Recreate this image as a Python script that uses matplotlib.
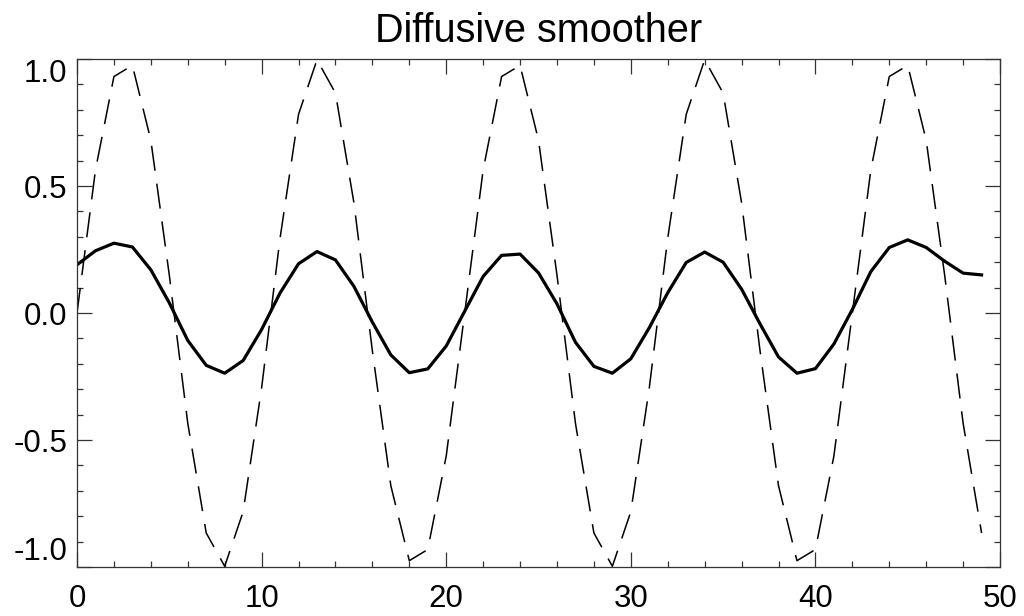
import matplotlib
matplotlib.use('Agg')
import matplotlib.pyplot as plt
from matplotlib.ticker import MultipleLocator, FixedLocator

plt.rcParams['font.family'] = ['Liberation Sans', 'DejaVu Sans']

# x positions 0..49
x = list(range(50))

# initial signal (dashed)
initial = [0.0, 0.563, 0.931, 0.975, 0.680, 0.149, -0.434, -0.866, -0.997, -0.782,
           -0.295, 0.295, 0.782, 0.997, 0.866, 0.434, -0.149, -0.680, -0.975, -0.931,
           -0.563, 0.0, 0.563, 0.931, 0.975, 0.680, 0.149, -0.434, -0.866, -0.997,
           -0.782, -0.295, 0.295, 0.782, 0.997, 0.866, 0.434, -0.149, -0.680, -0.975,
           -0.931, -0.563, 0.0, 0.563, 0.931, 0.975, 0.680, 0.149, -0.434, -0.866]

# smoothed result (solid)
smoothed = [0.19, 0.245, 0.275, 0.26, 0.17, 0.04, -0.108, -0.206, -0.237, -0.187,
            -0.065, 0.079, 0.194, 0.242, 0.209, 0.105, -0.036, -0.165, -0.235, -0.22,
            -0.13, 0.007, 0.144, 0.227, 0.232, 0.158, 0.036, -0.115, -0.21, -0.237,
            -0.18, -0.058, 0.08, 0.199, 0.24, 0.20, 0.094, -0.043, -0.173, -0.237,
            -0.219, -0.122, 0.014, 0.163, 0.258, 0.288, 0.258, 0.204, 0.157, 0.150]

fig = plt.figure(figsize=(10.24, 6.16), dpi=100)
ax = fig.add_axes([0.0752, 0.0795, 0.9014, 0.8247])

ax.plot(x, initial, color='black', lw=1.1, dashes=(16.5, 8.5))
ax.plot(x, smoothed, color='black', lw=2.3)

ax.set_xlim(0, 50)
ax.set_ylim(-1, 1)
ax.set_title('Diffusive smoother', fontsize=28.5, pad=12)

ax.xaxis.set_major_locator(MultipleLocator(10))
ax.xaxis.set_minor_locator(MultipleLocator(2))
ax.yaxis.set_major_locator(FixedLocator([-1.0, -0.5, 0.0, 0.5, 1.0]))
ax.yaxis.set_minor_locator(MultipleLocator(0.1))
ax.set_yticklabels(['-1.0', '-0.5', '0.0', '0.5', '1.0'])

ax.tick_params(which='both', direction='in', top=True, right=True,
               labelsize=22.5, color='#333333', width=0.9)
ax.tick_params(which='major', length=11)
ax.tick_params(which='minor', length=4.3)
ax.tick_params(axis='x', pad=12)
ax.tick_params(axis='y', pad=7)

for s in ax.spines.values():
    s.set_linewidth(0.9)
    s.set_color('#333333')

# end labels sit inside the axis span
ylabels = ax.get_yticklabels()
ylabels[0].set_va('bottom')
ylabels[-1].set_va('top')

fig.savefig('out.png', dpi=100)
